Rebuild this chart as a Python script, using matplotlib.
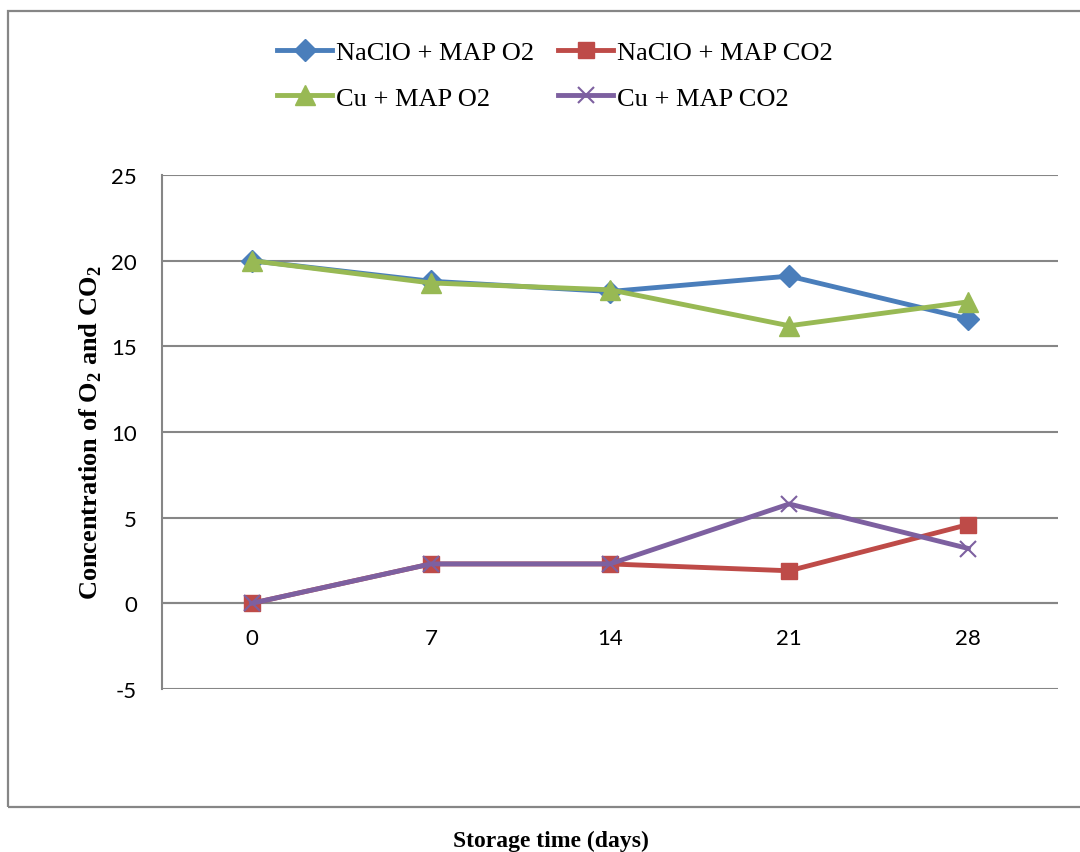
import matplotlib
matplotlib.use('Agg')
from matplotlib import pyplot as plt
import matplotlib.patches as mpatches

# data
days = ['0', '7', '14', '21', '28']
naclo_o2 = [20.0, 18.8, 18.2, 19.1, 16.6]
naclo_co2 = [0.0, 2.3, 2.3, 1.9, 4.6]
cu_o2 = [20.0, 18.7, 18.3, 16.2, 17.6]
cu_co2 = [0.0, 2.3, 2.3, 5.8, 3.2]
yticks = [-5, 0, 5, 10, 15, 20, 25]

plt.rcParams['mathtext.fontset'] = 'custom'
plt.rcParams['mathtext.rm'] = 'Liberation Serif:bold'
plt.rcParams['mathtext.bf'] = 'Liberation Serif:bold'

W, H = 1080, 853
fig = plt.figure(figsize=(W / 100, H / 100), dpi=100)
ax = fig.add_axes([162 / W, 1 - 690 / H, (1058 - 162) / W, (690 - 176) / H])

# outer chart border
grey = '#868686'
fig.patches.append(mpatches.Rectangle((8 / W, 1 - 808 / H), 1.2, (808 - 12) / H,
                                      transform=fig.transFigure, fill=False,
                                      edgecolor=grey, linewidth=1.6))

x = list(range(len(days)))
l1, = ax.plot(x, naclo_o2, color='#4A7EBB', lw=3.5, marker='D', ms=11, label='NaClO + MAP O2', zorder=3)
l2, = ax.plot(x, naclo_co2, color='#BE4B48', lw=3.5, marker='s', ms=12, label='NaClO + MAP CO2', zorder=3)
l3, = ax.plot(x, cu_o2, color='#98B954', lw=3.5, marker='^', ms=14, label='Cu + MAP O2', zorder=4)
l4, = ax.plot(x, cu_co2, color='#7D60A0', lw=3.5, marker='x', ms=12, mew=1.5, label='Cu + MAP CO2', zorder=5)

ax.set_xlim(-0.5, len(days) - 0.5)
ax.set_ylim(-5, 25)
ax.set_yticks(yticks)
ax.set_yticklabels([str(v) for v in yticks], fontsize=16, family='Lato')
ax.yaxis.grid(True, color=grey, lw=1.5)
ax.set_axisbelow(True)
ax.tick_params(axis='y', length=0, pad=18)
ax.set_xticks([])
for i, d in enumerate(days):
    ax.text(i, -2.0, d, ha='center', va='center', fontsize=16, family='Lato')
ax.axhline(0, color=grey, lw=1.5, zorder=1)
for s in ['top', 'right', 'bottom']:
    ax.spines[s].set_visible(False)
ax.spines['left'].set_color(grey)
ax.spines['left'].set_linewidth(1.5)

ax.set_ylabel(r'Concentration of O$_2$ and CO$_2$', family='Liberation Serif',
              fontweight='bold', fontsize=19, labelpad=5)
fig.text(551 / W, 1 - 841 / H, 'Storage time (days)', ha='center', va='center',
         family='Liberation Serif', fontweight='bold', fontsize=17)

# column-wise fill: put the handles in an order that gives the reference rows
fig.legend(handles=[l1, l3, l2, l4], loc='center', bbox_to_anchor=(555 / W, 1 - 76 / H),
           ncol=2, frameon=False, prop={'family': 'Liberation Serif', 'size': 19},
           handlelength=2.1, handletextpad=0.15, columnspacing=0.9, labelspacing=0.85)

fig.savefig('out.png', dpi=100)
